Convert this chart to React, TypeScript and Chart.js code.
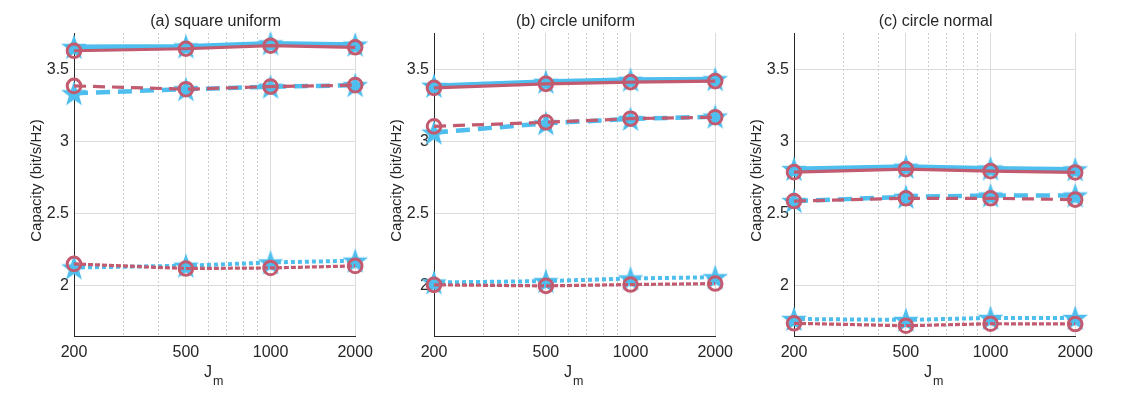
import React, { useEffect, useRef } from 'react';
import { Chart, registerables } from 'chart.js';
Chart.register(...registerables);

// ---------- data ----------
const jm = [200, 500, 1000, 2000];
const xTickValues = [200, 300, 400, 500, 600, 700, 800, 900, 1000, 2000];
const xMajorTicks = [200, 500, 1000, 2000];
const yTickValues = [2, 2.5, 3, 3.5];
const panelTitles = ['(a) square uniform', '(b) circle uniform', '(c) circle normal'];
const yLabel = 'Capacity (bit/s/Hz)';

const aBlueSolid = [3.653, 3.657, 3.678, 3.669];
const aRedSolid = [3.627, 3.641, 3.662, 3.651];
const aBlueDashed = [3.333, 3.361, 3.378, 3.389];
const aRedDashed = [3.384, 3.361, 3.379, 3.389];
const aBlueDotted = [2.127, 2.139, 2.162, 2.174];
const aRedDotted = [2.152, 2.120, 2.124, 2.138];

const bBlueSolid = [3.384, 3.412, 3.426, 3.430];
const bRedSolid = [3.370, 3.398, 3.410, 3.417];
const bBlueDashed = [3.060, 3.125, 3.155, 3.171];
const bRedDashed = [3.104, 3.132, 3.157, 3.167];
const bBlueDotted = [2.023, 2.033, 2.051, 2.060];
const bRedDotted = [2.007, 2.000, 2.009, 2.016];

const cBlueSolid = [2.808, 2.824, 2.812, 2.806];
const cRedSolid = [2.787, 2.808, 2.794, 2.785];
const cBlueDashed = [2.587, 2.616, 2.625, 2.625];
const cRedDashed = [2.587, 2.606, 2.606, 2.597];
const cBlueDotted = [1.771, 1.764, 1.778, 1.778];
const cRedDotted = [1.741, 1.724, 1.738, 1.736];

const panels = [
  { title: panelTitles[0], blue: [aBlueSolid, aBlueDashed, aBlueDotted], red: [aRedSolid, aRedDashed, aRedDotted] },
  { title: panelTitles[1], blue: [bBlueSolid, bBlueDashed, bBlueDotted], red: [bRedSolid, bRedDashed, bRedDotted] },
  { title: panelTitles[2], blue: [cBlueSolid, cBlueDashed, cBlueDotted], red: [cRedSolid, cRedDashed, cRedDotted] },
];

// ---------- styles ----------
const BLUE = '#4DBEEE';
const RED = '#C25B6F';
const TEXT = '#262626';
const FONT = '"Liberation Sans", Arial, Helvetica, sans-serif';
const Y_MIN = 1.653;
const Y_MAX = 3.75;

const PLOT_LEFT = 74;
const PLOT_TOP = 33;
const PLOT_BOTTOM = 336;
const CANVAS_H = 397;
const CANVAS_W = 380;
const panelLayout = [
  { left: 0, plotW: 284 },
  { left: 360, plotW: 284 },
  { left: 720, plotW: 284.5 },
];

const blueStyles = [
  { width: 5, dash: [] as number[] },
  { width: 4.5, dash: [14, 8] },
  { width: 4, dash: [4, 3] },
];
const redStyles = [
  { width: 3.2, dash: [] as number[] },
  { width: 3.2, dash: [12, 7] },
  { width: 3.2, dash: [5, 2] },
];

function makeStar(): HTMLCanvasElement {
  const size = 30;
  const c = document.createElement('canvas');
  c.width = size;
  c.height = size;
  const g = c.getContext('2d')!;
  const R = 13.5;
  const r = 5.4;
  g.beginPath();
  for (let i = 0; i < 10; i++) {
    const rad = i % 2 === 0 ? R : r;
    const a = -Math.PI / 2 + (i * Math.PI) / 5;
    const px = size / 2 + rad * Math.cos(a);
    const py = size / 2 + 1 + rad * Math.sin(a);
    if (i === 0) g.moveTo(px, py);
    else g.lineTo(px, py);
  }
  g.closePath();
  g.fillStyle = BLUE;
  g.fill();
  return c;
}

const textPlugin = {
  id: 'txt',
  afterDraw(chart: any, _args: any, opts: any) {
    const { ctx, chartArea } = chart;
    const cx = (chartArea.left + chartArea.right) / 2;
    ctx.save();
    ctx.fillStyle = TEXT;
    ctx.textAlign = 'center';
    ctx.textBaseline = 'middle';
    ctx.font = `16px ${FONT}`;
    ctx.fillText(opts.title, cx + 1, 22);

    // x label J_m
    ctx.textAlign = 'left';
    ctx.textBaseline = 'alphabetic';
    ctx.font = `16px ${FONT}`;
    const wJ = ctx.measureText('J').width;
    ctx.font = `12.5px ${FONT}`;
    const wm = ctx.measureText('m').width;
    const x0 = cx - (wJ + wm + 1) / 2 - 1;
    ctx.font = `16px ${FONT}`;
    ctx.fillText('J', x0, 377);
    ctx.font = `12.5px ${FONT}`;
    ctx.fillText('m', x0 + wJ + 1, 385);

    // y label
    ctx.translate(chartArea.left - 37, (chartArea.top + chartArea.bottom) / 2 - 4);
    ctx.rotate(-Math.PI / 2);
    ctx.textAlign = 'center';
    ctx.textBaseline = 'middle';
    ctx.font = `15px ${FONT}`;
    ctx.fillText(yLabel, 0, 0);
    ctx.restore();
  },
};

function Panel({ idx }: { idx: number }) {
  const ref = useRef<HTMLCanvasElement | null>(null);
  const p = panels[idx];
  const lay = panelLayout[idx];
  useEffect(() => {
    if (!ref.current) return;
    const star = makeStar();
    const datasets: any[] = [];
    p.red.forEach((vals, i) => {
      datasets.push({
        data: jm.map((x, k) => ({ x, y: vals[k] })),
        borderColor: RED,
        borderWidth: redStyles[i].width,
        borderDash: redStyles[i].dash,
        borderCapStyle: 'butt',
        pointStyle: 'circle',
        pointRadius: 6.8,
        pointBorderWidth: 3,
        pointBorderColor: RED,
        pointBackgroundColor: 'rgba(0,0,0,0)',
        fill: false,
        tension: 0,
        clip: false,
        order: 0,
      });
    });
    p.blue.forEach((vals, i) => {
      datasets.push({
        data: jm.map((x, k) => ({ x, y: vals[k] })),
        borderColor: BLUE,
        borderWidth: blueStyles[i].width,
        borderDash: blueStyles[i].dash,
        borderCapStyle: 'butt',
        pointStyle: star,
        pointRadius: 8,
        pointBorderWidth: 0,
        pointBackgroundColor: BLUE,
        fill: false,
        tension: 0,
        clip: false,
        order: 1,
      });
    });
    const chart = new Chart(ref.current, {
      type: 'line',
      data: { datasets },
      plugins: [textPlugin as any],
      options: {
        animation: false,
        responsive: false,
        devicePixelRatio: 1,
        layout: { padding: { top: PLOT_TOP, right: CANVAS_W - PLOT_LEFT - lay.plotW, left: 0, bottom: 0 } },
        plugins: {
          legend: { display: false },
          tooltip: { enabled: false },
          title: { display: false },
          txt: { title: p.title },
        } as any,
        scales: {
          x: {
            type: 'logarithmic',
            min: 200,
            max: 2000,
            afterBuildTicks: (s: any) => {
              s.ticks = xTickValues.map((v) => ({ value: v }));
            },
            afterFit: (s: any) => {
              s.height = CANVAS_H - PLOT_BOTTOM;
            },
            ticks: {
              autoSkip: false,
              maxRotation: 0,
              minRotation: 0,
              padding: 7,
              color: TEXT,
              font: { family: FONT, size: 16 },
              callback: (v: any) => (xMajorTicks.includes(Number(v)) ? String(v) : ''),
            },
            grid: {
              drawTicks: false,
              color: (c: any) =>
                c.tick && xMajorTicks.includes(c.tick.value) ? '#dcdcdc' : '#cfcfcf',
              lineWidth: 1,
            },
            border: {
              display: true,
              color: TEXT,
              width: 1,
              dash: (c: any) => (c.tick && !xMajorTicks.includes(c.tick.value) ? [2, 2] : []),
            },
          },
          y: {
            type: 'linear',
            min: Y_MIN,
            max: Y_MAX,
            afterBuildTicks: (s: any) => {
              s.ticks = yTickValues.map((v) => ({ value: v }));
            },
            afterFit: (s: any) => {
              s.width = PLOT_LEFT;
            },
            ticks: {
              padding: 5,
              color: TEXT,
              font: { family: FONT, size: 16 },
              callback: (v: any) => String(v),
            },
            grid: { drawTicks: false, color: '#dcdcdc', lineWidth: 1 },
            border: { display: true, color: TEXT, width: 1 },
          },
        },
      } as any,
    });
    return () => chart.destroy();
  }, [idx]);
  return (
    <canvas
      ref={ref}
      width={CANVAS_W}
      height={CANVAS_H}
      style={{ position: 'absolute', left: lay.left, top: 0, width: CANVAS_W, height: CANVAS_H }}
    />
  );
}

export default function App() {
  return (
    <div
      style={{
        position: 'fixed',
        left: 0,
        top: 0,
        width: 1133,
        height: 397,
        background: '#ffffff',
        overflow: 'hidden',
      }}
    >
      <Panel idx={0} />
      <Panel idx={1} />
      <Panel idx={2} />
    </div>
  );
}
